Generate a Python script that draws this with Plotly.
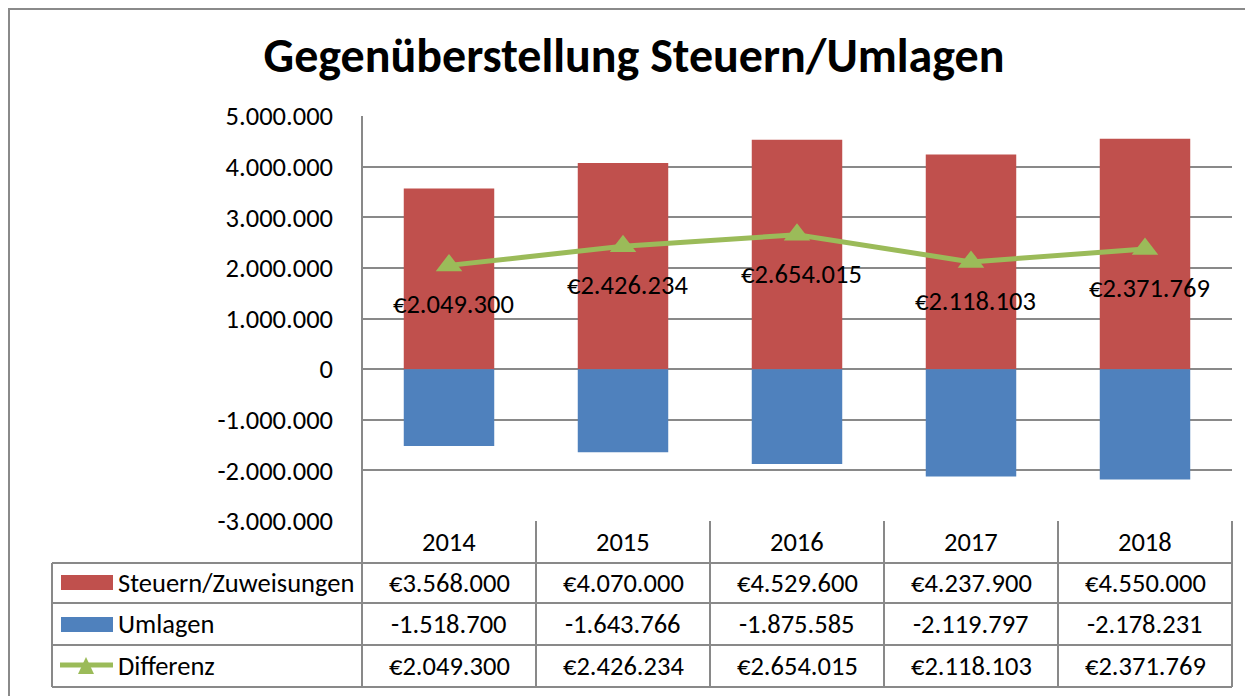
import plotly.graph_objects as go

years = ["2014", "2015", "2016", "2017", "2018"]
steuern = [3568000, 4070000, 4529600, 4237900, 4550000]
umlagen = [-1518700, -1643766, -1875585, -2119797, -2178231]
differenz = [2049300, 2426234, 2654015, 2118103, 2371769]
tick_values = [-3000000, -2000000, -1000000, 0, 1000000, 2000000, 3000000, 4000000, 5000000]

RED = "#C0504D"
BLUE = "#4F81BD"
GREEN = "#9BBB59"
GRID = "#898989"
FONT = "Carlito, Calibri, Lato, sans-serif"
FS = 26.5

OFF = 8  # page body margin
W, H = 1253 - OFF, 696 - OFF
L, R, T, B = 362 - OFF, 1232 - OFF, 116 - OFF, 521 - OFF  # plot area in figure px


def fmt(v, euro=False):
    s = f"{abs(v):,}".replace(",", ".")
    if v < 0:
        s = "-" + s
    return ("€" + s) if euro else s


def px(x):  # screenshot px -> paper
    return (x - OFF - L) / (R - L)


def py(y):
    return (B - (y - OFF)) / (B - T)


idx = list(range(len(years)))

fig = go.Figure()
fig.add_trace(go.Bar(x=idx, y=steuern, name="Steuern/Zuweisungen", marker_color=RED,
                     marker_line_width=0, width=0.52))
fig.add_trace(go.Bar(x=idx, y=umlagen, name="Umlagen", marker_color=BLUE,
                     marker_line_width=0, width=0.52))
fig.add_trace(go.Scatter(x=idx, y=differenz, name="Differenz", mode="lines+markers",
                         line=dict(color=GREEN, width=5),
                         marker=dict(symbol="triangle-up", size=23, color=GREEN)))

annotations = []
# data labels for Differenz
for i, v in zip(idx, differenz):
    annotations.append(dict(x=i, y=v, xref="x", yref="y", text=fmt(v, True), showarrow=False,
                            yshift=-39, xshift=4, font=dict(size=FS, color="black", family=FONT)))

# table
row_y = [542, 583, 624, 666]
for i, yr in zip(idx, years):
    annotations.append(dict(x=i, y=py(row_y[0]), xref="x", yref="paper", text=yr, showarrow=False,
                            font=dict(size=FS, color="black", family=FONT), yanchor="middle"))
for row, (vals, euro) in enumerate([(steuern, True), (umlagen, False), (differenz, True)]):
    for i, v in zip(idx, vals):
        annotations.append(dict(x=i, y=py(row_y[row + 1]), xref="x", yref="paper", text=fmt(v, euro),
                                showarrow=False, yanchor="middle",
                                font=dict(size=FS, color="black", family=FONT)))
for row, name in enumerate(["Steuern/Zuweisungen", "Umlagen", "Differenz"]):
    annotations.append(dict(x=px(116), y=py(row_y[row + 1]), xref="paper", yref="paper", text=name,
                            showarrow=False, xanchor="left", yanchor="middle",
                            font=dict(size=FS, color="black", family=FONT)))

shapes = []
line = dict(color=GRID, width=2)
# outer frame
shapes.append(dict(type="rect", xref="paper", yref="paper", x0=px(9), x1=px(1300), y0=py(9), y1=py(750),
                   line=dict(color="#8a8a8a", width=2), layer="below"))
# horizontal table lines
for y in [563, 603, 645, 687]:
    shapes.append(dict(type="line", xref="paper", yref="paper", x0=px(52), x1=1, y0=py(y), y1=py(y), line=line))
# vertical table lines
n = len(years)
for i in range(n + 1):
    xp = i / n
    shapes.append(dict(type="line", xref="paper", yref="paper", x0=xp, x1=xp,
                       y0=0, y1=py(687), line=line))
shapes.append(dict(type="line", xref="paper", yref="paper", x0=px(52), x1=px(52),
                   y0=py(563), y1=py(687), line=line))
shapes.append(dict(type="line", xref="paper", yref="paper", x0=0, x1=0,
                   y0=1, y1=0, line=line))
# legend keys
shapes.append(dict(type="rect", xref="paper", yref="paper", x0=px(61), x1=px(113), y0=py(575), y1=py(590),
                   fillcolor=RED, line_width=0))
shapes.append(dict(type="rect", xref="paper", yref="paper", x0=px(61), x1=px(113), y0=py(617), y1=py(632),
                   fillcolor=BLUE, line_width=0))
shapes.append(dict(type="line", xref="paper", yref="paper", x0=px(60), x1=px(113), y0=py(665), y1=py(665),
                   line=dict(color=GREEN, width=5)))
tri = f"M {px(78)} {py(674)} L {px(94)} {py(674)} L {px(86)} {py(657)} Z"
shapes.append(dict(type="path", xref="paper", yref="paper", path=tri, fillcolor=GREEN, line_width=0))

fig.update_layout(
    width=W, height=H,
    margin=dict(l=L, r=W - R, t=T, b=H - B),
    paper_bgcolor="white", plot_bgcolor="white",
    barmode="relative", showlegend=False,
    title=dict(text="<b>Gegenüberstellung Steuern/Umlagen</b>", x=(634 - OFF) / W, xanchor="center",
               y=1 - (55 - OFF) / H, yanchor="middle", yref="container",
               font=dict(size=48, color="black", family=FONT)),
    xaxis=dict(range=[-0.5, 4.5], showticklabels=False, showgrid=False,
               showline=False, zeroline=False),
    yaxis=dict(range=[-3000000, 5000000], tickvals=tick_values,
               ticktext=[fmt(v) for v in tick_values],
               showgrid=True, gridcolor=GRID, gridwidth=2, zeroline=False,
               showline=False, ticks="", ticklabelstandoff=28,
               tickfont=dict(size=FS, color="black", family=FONT)),
    annotations=annotations, shapes=shapes,
    font=dict(family=FONT),
)

fig.write_html("out.html")
